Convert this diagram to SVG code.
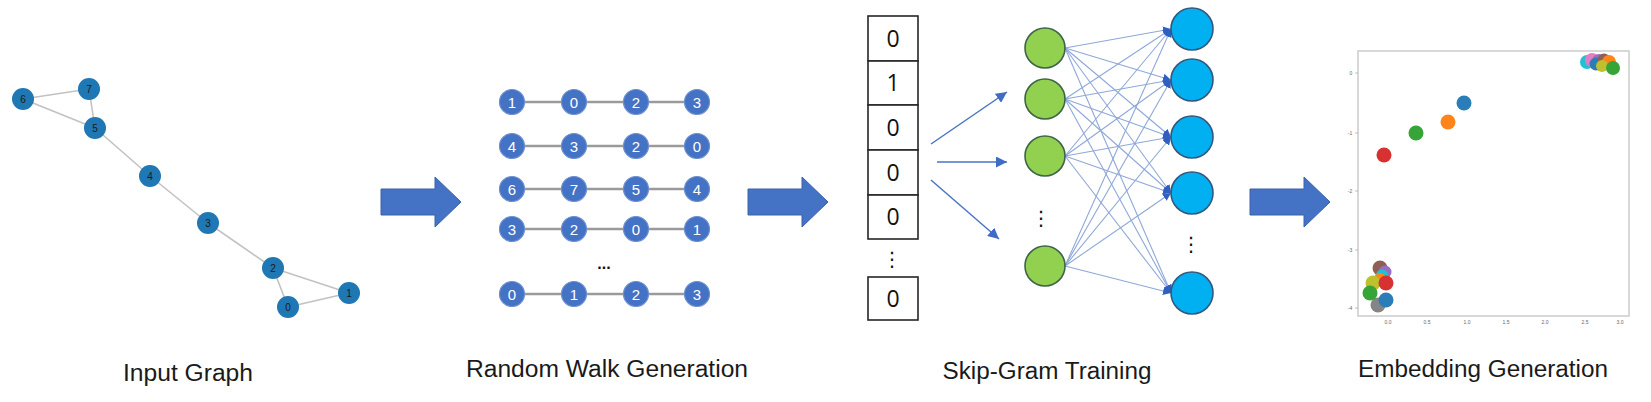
<svg xmlns="http://www.w3.org/2000/svg" width="1651" height="402" viewBox="0 0 1651 402">
<style>
.gedge{stroke:#c2c2c2;stroke-width:1.6;fill:none}
.gnode{fill:#1f77b4}
.glab{font-family:"Liberation Sans",Arial,sans-serif;font-size:10px;fill:#1a1a1a;text-anchor:middle}
.wline{stroke:#9a9a9a;stroke-width:2.5}
.wnode{fill:#4472C4;stroke:#6d8fd0;stroke-width:1.2}
.wlab{font-family:"Liberation Sans",Arial,sans-serif;font-size:15px;fill:#ffffff;text-anchor:middle}
.big{fill:#4472C4;stroke:#3a62ad;stroke-width:1}
.vbox{fill:#ffffff;stroke:#262626;stroke-width:1.6}
.vlab{font-family:"Open Sans","Liberation Sans",sans-serif;font-size:23px;fill:#111;text-anchor:middle}
.hid{fill:#92D050;stroke:#3d6448;stroke-width:1.6}
.out{fill:#00B0F0;stroke:#34587d;stroke-width:1.6}
.nn{stroke:#8fa8d8;stroke-width:1.1;fill:none}
.inarr{stroke:#4a74c6;stroke-width:1.5;fill:none}
.vdots{font-family:"DejaVu Sans",sans-serif;font-size:20px;fill:#111;text-anchor:middle}
.title{font-family:"Liberation Sans",Arial,sans-serif;font-size:23px;fill:#1a1a1a;text-anchor:middle}
.tick{font-family:"Liberation Sans",Arial,sans-serif;font-size:5px;fill:#666;text-anchor:middle}
</style>
<defs>
<marker id="ah" viewBox="0 0 8 8" refX="8" refY="4" markerWidth="8" markerHeight="8" markerUnits="userSpaceOnUse" orient="auto">
<path d="M0,0 L8,4 L0,8 z" fill="#2f5fbf"/>
</marker>
<marker id="ah2" viewBox="0 0 10 10" refX="10" refY="5" markerWidth="11" markerHeight="11" markerUnits="userSpaceOnUse" orient="auto">
<path d="M0,0 L10,5 L0,10 z" fill="#3f6cc4"/>
</marker>
</defs>
<rect width="1651" height="402" fill="#ffffff"/>

<!-- Input graph -->
<g id="input-graph-edges" class="gedge">
<line x1="23" y1="99" x2="89" y2="89"/>
<line x1="23" y1="99" x2="95" y2="128"/>
<line x1="89" y1="89" x2="95" y2="128"/>
<line x1="95" y1="128" x2="150" y2="176"/>
<line x1="150" y1="176" x2="208" y2="223"/>
<line x1="208" y1="223" x2="273" y2="268"/>
<line x1="273" y1="268" x2="349" y2="293"/>
<line x1="273" y1="268" x2="288" y2="307"/>
<line x1="288" y1="307" x2="349" y2="293"/>
</g>
<g id="g-node-6"><circle class="gnode" cx="23" cy="99" r="11"/><text class="glab" x="23" y="102.5">6</text></g>
<g id="g-node-7"><circle class="gnode" cx="89" cy="89" r="11"/><text class="glab" x="89" y="92.5">7</text></g>
<g id="g-node-5"><circle class="gnode" cx="95" cy="128" r="11"/><text class="glab" x="95" y="131.5">5</text></g>
<g id="g-node-4"><circle class="gnode" cx="150" cy="176" r="11"/><text class="glab" x="150" y="179.5">4</text></g>
<g id="g-node-3"><circle class="gnode" cx="208" cy="223" r="11"/><text class="glab" x="208" y="226.5">3</text></g>
<g id="g-node-2"><circle class="gnode" cx="273" cy="268" r="11"/><text class="glab" x="273" y="271.5">2</text></g>
<g id="g-node-1"><circle class="gnode" cx="349" cy="293" r="11"/><text class="glab" x="349" y="296.5">1</text></g>
<g id="g-node-0"><circle class="gnode" cx="288" cy="307" r="11"/><text class="glab" x="288" y="310.5">0</text></g>

<!-- Big arrows -->
<g id="arrow-1"><polygon class="big" points="381,189 435,189 435,177 461,202 435,227 435,215 381,215"/></g>
<g id="arrow-2"><polygon class="big" points="748,189 802,189 802,177 828,202 802,227 802,215 748,215"/></g>
<g id="arrow-3"><polygon class="big" points="1250,189 1304,189 1304,177 1330,202 1304,227 1304,215 1250,215"/></g>

<!-- Random walks -->
<g id="walk-lines">
<line class="wline" x1="512" y1="102" x2="697" y2="102"/>
<line class="wline" x1="512" y1="146" x2="697" y2="146"/>
<line class="wline" x1="512" y1="189" x2="697" y2="189"/>
<line class="wline" x1="512" y1="229" x2="697" y2="229"/>
<line class="wline" x1="512" y1="294" x2="697" y2="294"/>
</g>
<g id="walk-1">
<circle class="wnode" cx="512" cy="102" r="12.5"/><text class="wlab" x="512" y="107.5">1</text>
<circle class="wnode" cx="574" cy="102" r="12.5"/><text class="wlab" x="574" y="107.5">0</text>
<circle class="wnode" cx="636" cy="102" r="12.5"/><text class="wlab" x="636" y="107.5">2</text>
<circle class="wnode" cx="697" cy="102" r="12.5"/><text class="wlab" x="697" y="107.5">3</text>
</g>
<g id="walk-2">
<circle class="wnode" cx="512" cy="146" r="12.5"/><text class="wlab" x="512" y="151.5">4</text>
<circle class="wnode" cx="574" cy="146" r="12.5"/><text class="wlab" x="574" y="151.5">3</text>
<circle class="wnode" cx="636" cy="146" r="12.5"/><text class="wlab" x="636" y="151.5">2</text>
<circle class="wnode" cx="697" cy="146" r="12.5"/><text class="wlab" x="697" y="151.5">0</text>
</g>
<g id="walk-3">
<circle class="wnode" cx="512" cy="189" r="12.5"/><text class="wlab" x="512" y="194.5">6</text>
<circle class="wnode" cx="574" cy="189" r="12.5"/><text class="wlab" x="574" y="194.5">7</text>
<circle class="wnode" cx="636" cy="189" r="12.5"/><text class="wlab" x="636" y="194.5">5</text>
<circle class="wnode" cx="697" cy="189" r="12.5"/><text class="wlab" x="697" y="194.5">4</text>
</g>
<g id="walk-4">
<circle class="wnode" cx="512" cy="229" r="12.5"/><text class="wlab" x="512" y="234.5">3</text>
<circle class="wnode" cx="574" cy="229" r="12.5"/><text class="wlab" x="574" y="234.5">2</text>
<circle class="wnode" cx="636" cy="229" r="12.5"/><text class="wlab" x="636" y="234.5">0</text>
<circle class="wnode" cx="697" cy="229" r="12.5"/><text class="wlab" x="697" y="234.5">1</text>
</g>
<text x="604" y="269" font-family="Liberation Sans, Arial, sans-serif" font-size="16" font-weight="bold" fill="#111" text-anchor="middle">...</text>
<g id="walk-5">
<circle class="wnode" cx="512" cy="294" r="12.5"/><text class="wlab" x="512" y="299.5">0</text>
<circle class="wnode" cx="574" cy="294" r="12.5"/><text class="wlab" x="574" y="299.5">1</text>
<circle class="wnode" cx="636" cy="294" r="12.5"/><text class="wlab" x="636" y="299.5">2</text>
<circle class="wnode" cx="697" cy="294" r="12.5"/><text class="wlab" x="697" y="299.5">3</text>
</g>

<!-- One-hot vector -->
<g id="onehot-vector">
<rect class="vbox" x="868" y="16" width="50" height="45"/><text class="vlab" x="893" y="47">0</text>
<rect class="vbox" x="868" y="61" width="50" height="44"/><text class="vlab" x="893" y="91">1</text>
<rect class="vbox" x="868" y="105" width="50" height="45"/><text class="vlab" x="893" y="136">0</text>
<rect class="vbox" x="868" y="150" width="50" height="45"/><text class="vlab" x="893" y="181">0</text>
<rect class="vbox" x="868" y="195" width="50" height="44"/><text class="vlab" x="893" y="225">0</text>
<text class="vdots" x="892" y="266">⋮</text>
<rect class="vbox" x="868" y="277" width="50" height="43"/><text class="vlab" x="893" y="307">0</text>
</g>

<!-- Connectors -->
<g id="connectors">
<line class="inarr" x1="931" y1="144" x2="1007" y2="92" marker-end="url(#ah2)"/>
<line class="inarr" x1="937" y1="162" x2="1007" y2="162" marker-end="url(#ah2)"/>
<line class="inarr" x1="931" y1="180" x2="999" y2="239" marker-end="url(#ah2)"/>
<g class="nn" marker-end="url(#ah)">
<line x1="1065" y1="48" x2="1171" y2="29"/>
<line x1="1065" y1="48" x2="1171" y2="80"/>
<line x1="1065" y1="48" x2="1171" y2="137"/>
<line x1="1065" y1="48" x2="1171" y2="193"/>
<line x1="1065" y1="48" x2="1171" y2="293"/>
<line x1="1065" y1="99" x2="1171" y2="29"/>
<line x1="1065" y1="99" x2="1171" y2="80"/>
<line x1="1065" y1="99" x2="1171" y2="137"/>
<line x1="1065" y1="99" x2="1171" y2="193"/>
<line x1="1065" y1="99" x2="1171" y2="293"/>
<line x1="1065" y1="156" x2="1171" y2="29"/>
<line x1="1065" y1="156" x2="1171" y2="80"/>
<line x1="1065" y1="156" x2="1171" y2="137"/>
<line x1="1065" y1="156" x2="1171" y2="193"/>
<line x1="1065" y1="156" x2="1171" y2="293"/>
<line x1="1065" y1="266" x2="1171" y2="29"/>
<line x1="1065" y1="266" x2="1171" y2="80"/>
<line x1="1065" y1="266" x2="1171" y2="137"/>
<line x1="1065" y1="266" x2="1171" y2="193"/>
<line x1="1065" y1="266" x2="1171" y2="293"/>
</g>
</g>

<!-- Hidden layer -->
<g id="hidden-1"><circle class="hid" cx="1045" cy="48" r="20"/></g>
<g id="hidden-2"><circle class="hid" cx="1045" cy="99" r="20"/></g>
<g id="hidden-3"><circle class="hid" cx="1045" cy="156" r="20"/></g>
<text class="vdots" x="1041" y="225" font-size="16">⋮</text>
<g id="hidden-4"><circle class="hid" cx="1045" cy="266" r="20"/></g>

<!-- Output layer -->
<g id="output-1"><circle class="out" cx="1192" cy="29" r="21"/></g>
<g id="output-2"><circle class="out" cx="1192" cy="80" r="21"/></g>
<g id="output-3"><circle class="out" cx="1192" cy="137" r="21"/></g>
<g id="output-4"><circle class="out" cx="1192" cy="193" r="21"/></g>
<text class="vdots" x="1191" y="251" font-size="16">⋮</text>
<g id="output-5"><circle class="out" cx="1192" cy="293" r="21"/></g>

<!-- Embedding plot -->
<g id="embedding-plot">
<rect x="1358" y="51" width="271" height="265" fill="none" stroke="#cfcfcf" stroke-width="1.6"/>
<g stroke="#999" stroke-width="0.6">
<line x1="1355" y1="73" x2="1358" y2="73"/>
<line x1="1355" y1="133" x2="1358" y2="133"/>
<line x1="1355" y1="191" x2="1358" y2="191"/>
<line x1="1355" y1="250" x2="1358" y2="250"/>
<line x1="1355" y1="308" x2="1358" y2="308"/>
</g>
<text class="tick" x="1351" y="75">0</text>
<text class="tick" x="1350" y="135">-1</text>
<text class="tick" x="1350" y="193">-2</text>
<text class="tick" x="1350" y="252">-3</text>
<text class="tick" x="1350" y="310">-4</text>
<text class="tick" x="1388" y="324">0.0</text>
<text class="tick" x="1427" y="324">0.5</text>
<text class="tick" x="1467" y="324">1.0</text>
<text class="tick" x="1506" y="324">1.5</text>
<text class="tick" x="1545" y="324">2.0</text>
<text class="tick" x="1585" y="324">2.5</text>
<text class="tick" x="1620" y="324">3.0</text>
<g opacity="0.95">
<circle cx="1464" cy="103" r="7.5" fill="#1f77b4"/>
<circle cx="1448" cy="122" r="7.5" fill="#ff7f0e"/>
<circle cx="1416" cy="133" r="7.5" fill="#2ca02c"/>
<circle cx="1384" cy="155" r="7.5" fill="#d62728"/>
<circle cx="1380" cy="268" r="7.5" fill="#8c564b"/>
<circle cx="1385" cy="272" r="6.5" fill="#9467bd"/>
<circle cx="1382" cy="276" r="6.5" fill="#17becf"/>
<circle cx="1380" cy="279" r="6" fill="#ff7f0e"/>
<circle cx="1373" cy="283" r="7.5" fill="#bcbd22"/>
<circle cx="1386" cy="283" r="7.5" fill="#d62728"/>
<circle cx="1378" cy="305" r="7.5" fill="#7f7f7f"/>
<circle cx="1370" cy="293" r="7.5" fill="#2ca02c"/>
<circle cx="1386" cy="300" r="7.5" fill="#1f77b4"/>
<circle cx="1587" cy="62" r="7" fill="#17becf"/>
<circle cx="1592" cy="60" r="7" fill="#e377c2"/>
<circle cx="1599" cy="61" r="7" fill="#9467bd"/>
<circle cx="1596" cy="64" r="6.5" fill="#1f77b4"/>
<circle cx="1604" cy="60" r="6.5" fill="#8c564b"/>
<circle cx="1609" cy="62" r="7" fill="#ff7f0e"/>
<circle cx="1602" cy="66" r="6" fill="#bcbd22"/>
<circle cx="1613" cy="68" r="7" fill="#2ca02c"/>
</g>
</g>

<!-- Titles -->
<g id="titles">
<text class="title" x="188" y="381" textLength="130" lengthAdjust="spacingAndGlyphs">Input Graph</text>
<text class="title" x="607" y="377" textLength="282" lengthAdjust="spacingAndGlyphs">Random Walk Generation</text>
<text class="title" x="1047" y="379" textLength="209" lengthAdjust="spacingAndGlyphs">Skip-Gram Training</text>
<text class="title" x="1483" y="377" textLength="250" lengthAdjust="spacingAndGlyphs">Embedding Generation</text>
</g>
</svg>
